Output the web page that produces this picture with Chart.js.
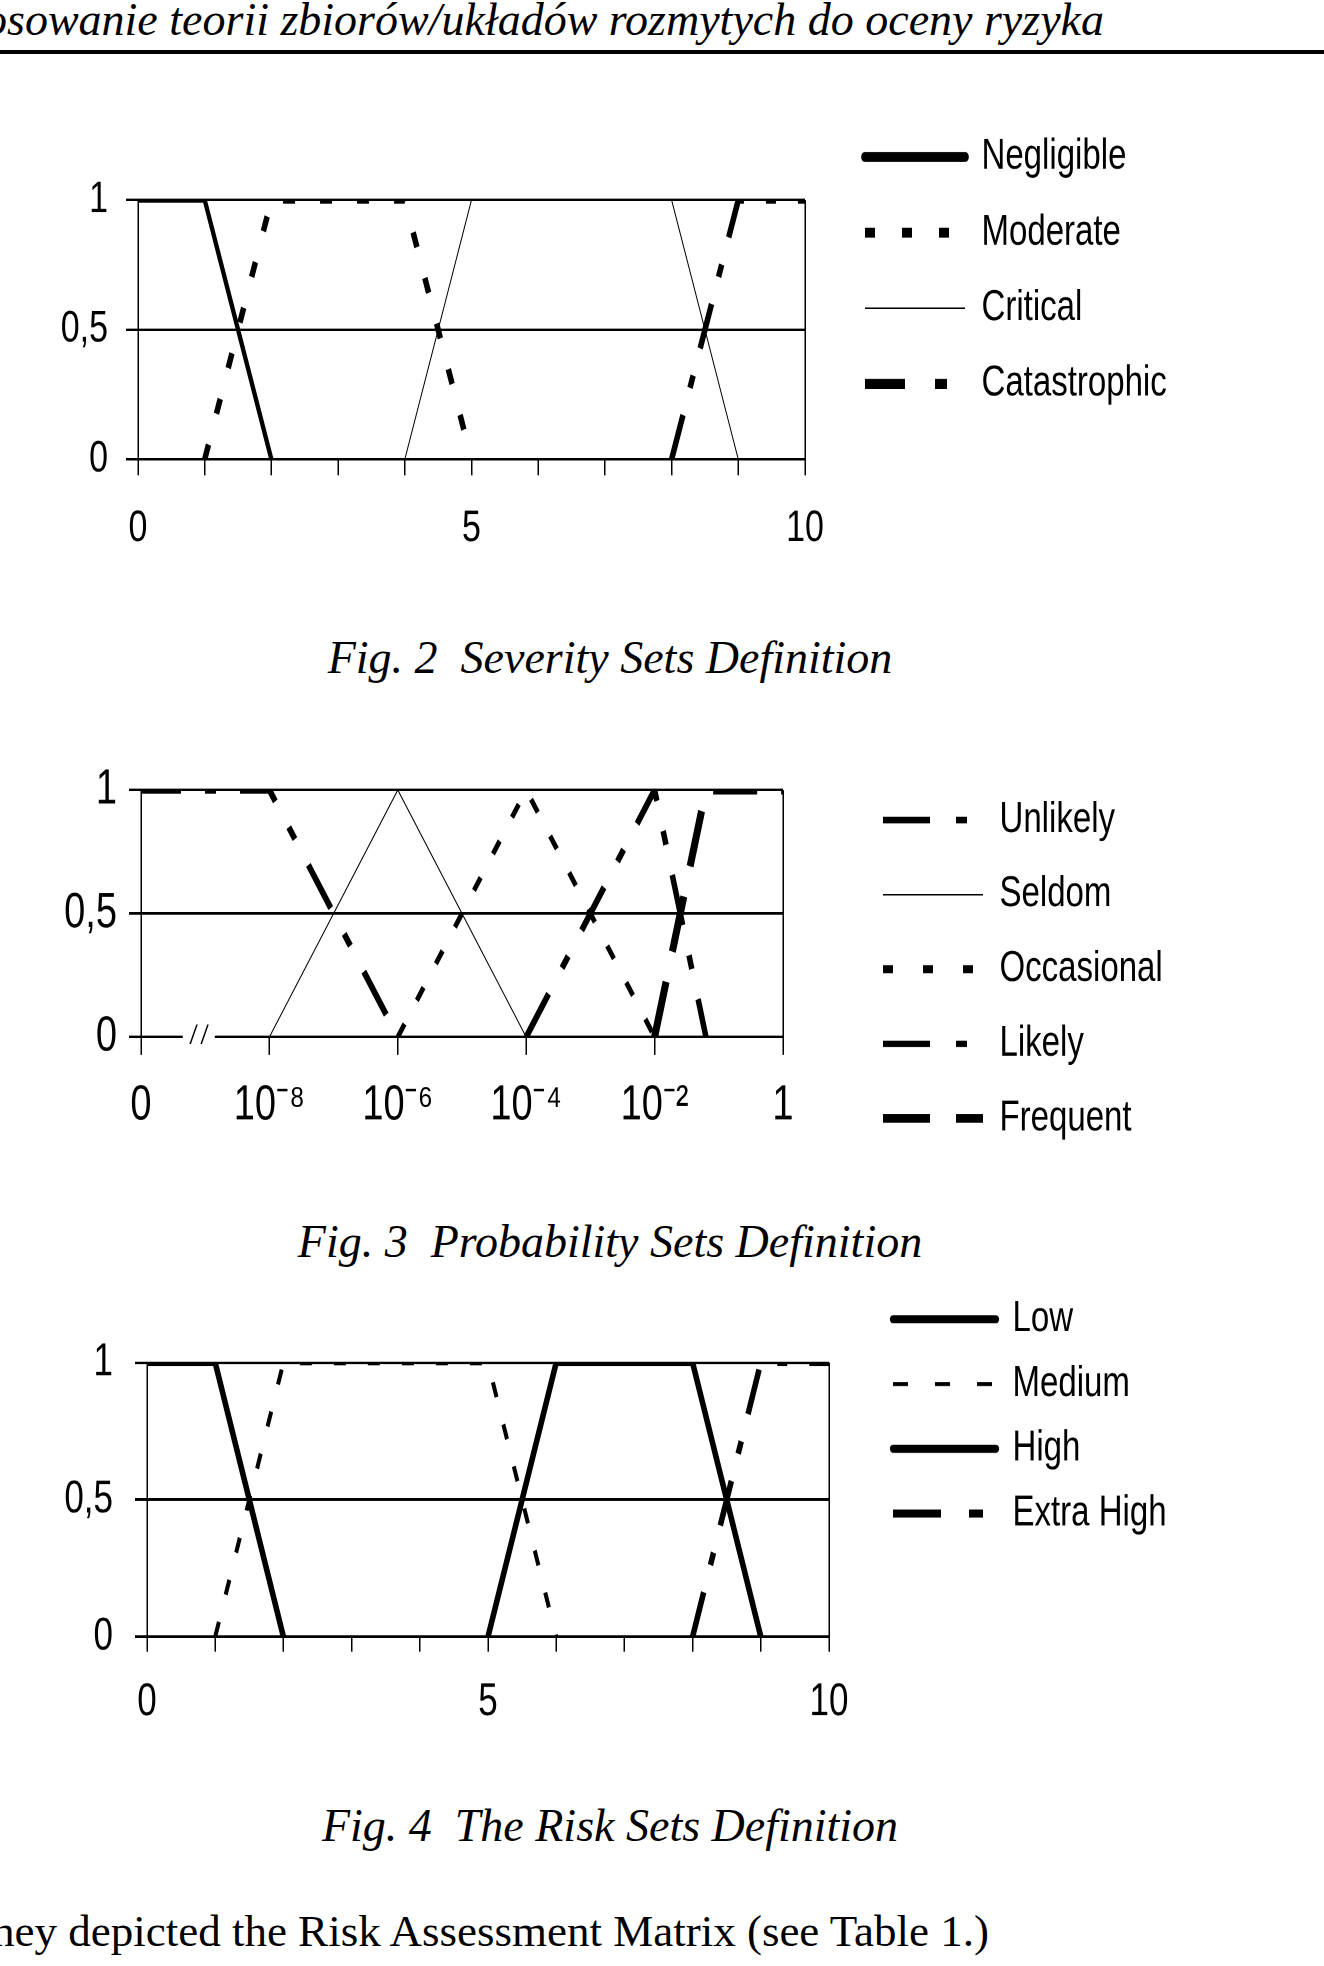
<!DOCTYPE html>
<html>
<head>
<meta charset="utf-8">
<script src="https://cdn.jsdelivr.net/npm/chart.js@4.4.1/dist/chart.umd.min.js"></script>
<style>
html,body{margin:0;padding:0;background:#fff;}
body{width:1324px;height:1966px;position:relative;overflow:hidden;}
.txt{position:absolute;font-family:'Liberation Serif','Times New Roman',serif;color:#000;white-space:pre;line-height:1;}
.cap{left:0;width:1220px;text-align:center;font-size:46px;font-style:italic;}
.chartbox{position:absolute;left:0;width:1324px;transform-origin:0 0;transform:scaleY(1.3);}
.chartbox canvas{display:block;}
</style>
</head>
<body>
<div class="txt" style="left:-16px;top:-3.5px;font-size:46px;font-style:italic;">osowanie teorii zbiorów/układów rozmytych do oceny ryzyka</div>
<div style="position:absolute;left:0;top:50px;width:1324px;height:4px;background:#000;"></div>

<div class="chartbox" style="top:90px;height:370px;"><canvas id="c1"></canvas></div>
<div class="txt cap" style="top:634.5px;">Fig. 2  Severity Sets Definition</div>

<div class="chartbox" style="top:745px;height:340px;"><canvas id="c2"></canvas></div>
<div class="txt cap" style="top:1218.5px;">Fig. 3  Probability Sets Definition</div>

<div class="chartbox" style="top:1270px;height:370px;"><canvas id="c3"></canvas></div>
<div class="txt cap" style="top:1803px;">Fig. 4  The Risk Sets Definition</div>

<div class="txt" style="left:-8px;top:1908.8px;font-size:45px;">hey depicted the Risk Assessment Matrix (see Table 1.)</div>

<script>
// ---------- shared y axis ----------
const yTickValues = [0, 0.5, 1];
const yTickLabels = ['0', '0,5', '1'];

// ---------- Fig. 2 Severity ----------
const sevTickValues = [0, 5, 10];
const sevTickLabels = ['0', '5', '10'];
const negligibleX = [0, 1, 2];       const negligibleY = [1, 1, 0];
const moderateX = [1, 2, 4, 5];      const moderateY = [0, 1, 1, 0];
const criticalX = [4, 5, 8, 9];      const criticalY = [0, 1, 1, 0];
const catastrophicX = [8, 9, 10];    const catastrophicY = [0, 1, 1];

// ---------- Fig. 3 Probability ----------
const probTickLabels = ['0', '10⁻⁸', '10⁻⁶', '10⁻⁴', '10⁻²', '1'];
const unlikelyX = [0, 1, 2];         const unlikelyY = [1, 1, 0];
const seldomX = [1, 2, 3];           const seldomY = [0, 1, 0];
const occasionalX = [2, 3, 4];       const occasionalY = [0, 1, 0];
const likelyX = [3, 4, 4.4];         const likelyY = [0, 1, 0];
const frequentX = [4, 4.4, 5];       const frequentY = [0, 1, 1];
const probBreakAt = 0.45;

// ---------- Fig. 4 Risk ----------
const riskTickValues = [0, 5, 10];
const riskTickLabels = ['0', '5', '10'];
const lowX = [0, 1, 2];              const lowY = [1, 1, 0];
const mediumX = [1, 2, 5, 6];        const mediumY = [0, 1, 1, 0];
const highX = [5, 6, 8, 9];          const highY = [0, 1, 1, 0];
const extraHighX = [8, 9, 10];       const extraHighY = [0, 1, 1];

const FONT_FAMILY = "'Liberation Sans', Arial, sans-serif";
const LEGEND_FONT = 33;
const PAGE_W = 1324;
Chart.defaults.color = '#000';
Chart.defaults.font.family = FONT_FAMILY;

function pts(xs, ys) { return xs.map((x, i) => ({ x: x, y: ys[i] })); }
function yLabel(v) { const i = yTickValues.indexOf(v); return i >= 0 ? yTickLabels[i] : ''; }

const measureCtx = document.createElement('canvas').getContext('2d');
function legendBoxWidth(labels, pad, box) {
  measureCtx.font = LEGEND_FONT + 'px ' + FONT_FAMILY;
  const tw = Math.max.apply(null, labels.map(t => measureCtx.measureText(t).width));
  return pad + box + LEGEND_FONT / 2 + tw + 4;
}

function build(id, p) {
  const legendW = legendBoxWidth(p.series.map(s => s.label), p.legendPad, p.legendBox);
  const padRight = PAGE_W - p.legendLeft - legendW;
  return new Chart(document.getElementById(id), {
    type: 'line',
    data: {
      datasets: p.series.map(s => ({
        label: s.label,
        data: pts(s.xs, s.ys),
        borderColor: '#000',
        backgroundColor: '#000',
        borderWidth: s.w,
        borderDash: s.dash || [],
        borderCapStyle: 'butt',
        borderJoinStyle: 'miter',
        pointRadius: 0,
        pointHoverRadius: 0,
        tension: 0,
        fill: false,
        legendWidth: s.lw,
        legendDash: s.ldash || [],
        legendCap: s.lcap || 'butt'
      }))
    },
    options: {
      animation: false,
      responsive: true,
      maintainAspectRatio: false,
      devicePixelRatio: 2,
      events: [],
      layout: { padding: { top: 0, left: 0, bottom: 0, right: padRight } },
      plugins: {
        tooltip: { enabled: false },
        legend: {
          position: 'right',
          align: 'start',
          maxWidth: legendW,
          title: { display: true, text: ' ', font: { size: 1, lineHeight: 1.2 }, padding: p.legendTitlePad },
          labels: {
            font: { size: LEGEND_FONT },
            color: '#000',
            padding: p.legendPad,
            usePointStyle: true,
            pointStyle: 'line',
            pointStyleWidth: p.legendBox,
            boxWidth: p.legendBox,
            boxHeight: 10,
            generateLabels: (chart) => chart.data.datasets.map((ds, i) => ({
              text: ds.label,
              fillStyle: '#000',
              strokeStyle: '#000',
              fontColor: '#000',
              lineWidth: ds.legendWidth,
              lineDash: ds.legendDash,
              lineDashOffset: 0,
              lineCap: ds.legendCap,
              lineJoin: 'miter',
              pointStyle: 'line',
              rotation: 0,
              hidden: false,
              datasetIndex: i
            }))
          }
        }
      },
      scales: {
        x: {
          type: 'linear', position: 'bottom', min: p.xMin, max: p.xMax,
          afterFit: s => { s.height = p.xH; },
          border: { display: false },
          grid: {
            color: c => (c.tick && (c.tick.value === p.xMin || c.tick.value === p.xMax)) ? '#000' : 'rgba(0,0,0,0)',
            lineWidth: 1.5, tickColor: '#000', tickWidth: 1.5, tickLength: p.xTL, drawTicks: true
          },
          ticks: { stepSize: 1, autoSkip: false, maxRotation: 0, minRotation: 0, padding: p.xPad,
                   font: { size: p.xFont }, color: '#000', callback: p.xLabel }
        },
        y: {
          type: 'linear', position: 'left', min: 0, max: 1,
          afterFit: s => { s.width = p.yW; },
          border: { display: false },
          grid: { color: '#000', lineWidth: 2, tickLength: 12, tickColor: '#000', tickWidth: 2 },
          ticks: { stepSize: 0.5, padding: p.yPad, font: { size: p.yFont, lineHeight: 1 }, color: '#000', callback: yLabel }
        },
        xTop: {
          type: 'linear', axis: 'x', position: 'top', display: true, min: 0, max: 1,
          grid: { display: false }, border: { display: false }, ticks: { display: false },
          afterFit: s => { s.height = p.topH; }
        },
        yRight: {
          type: 'linear', axis: 'y', position: 'right', display: true, min: 0, max: 1,
          grid: { display: false }, border: { display: false }, ticks: { display: false },
          afterFit: s => { s.width = p.legendLeft - p.plotRight; }
        }
      }
    },
    plugins: p.plugins || []
  });
}

const DASHDOT = [36, 22, 10, 22];

build('c1', {
  series: [
    { label: 'Negligible',   xs: negligibleX,   ys: negligibleY,   w: 4.3, lw: 7.7, lcap: 'round' },
    { label: 'Moderate',     xs: moderateX,     ys: moderateY,     w: 5.5, dash: [12, 25], lw: 7.7, ldash: [10, 27] },
    { label: 'Critical',     xs: criticalX,     ys: criticalY,     w: 1, lw: 1.3 },
    { label: 'Catastrophic', xs: catastrophicX, ys: catastrophicY, w: 5.5, dash: DASHDOT, lw: 7.7, ldash: [40, 30, 12, 60] }
  ],
  xMin: 0, xMax: 10,
  xLabel: v => { const i = sevTickValues.indexOf(v); return i >= 0 ? sevTickLabels[i] : ''; },
  legendLeft: 839.8, plotRight: 805,
  legendTitlePad: 4.3, legendPad: 25.2, legendBox: 100,
  yW: 138, topH: 84.6, xH: 85.9,
  xTL: 12.3, xPad: 20.9, xFont: 34, yPad: 18, yFont: 34
});

const breakPlugin = {
  id: 'axisBreak',
  afterDraw(chart) {
    const ctx = chart.ctx;
    const px = chart.scales.x.getPixelForValue(probBreakAt);
    const py = chart.scales.y.getPixelForValue(0);
    ctx.save();
    ctx.fillStyle = '#fff';
    ctx.fillRect(px - 16, py - 3, 32, 6);
    ctx.fillStyle = '#000';
    ctx.font = "italic 20px " + FONT_FAMILY;
    ctx.textAlign = 'center';
    ctx.textBaseline = 'middle';
    ctx.fillText('/ /', px, py);
    ctx.restore();
  }
};

build('c2', {
  series: [
    { label: 'Unlikely',   xs: unlikelyX,   ys: unlikelyY,   w: 5.5, dash: [40, 24, 11, 24], lw: 5, ldash: [47, 26, 11, 60] },
    { label: 'Seldom',     xs: seldomX,     ys: seldomY,     w: 1, lw: 1.3 },
    { label: 'Occasional', xs: occasionalX, ys: occasionalY, w: 4.5, dash: [12, 22], lw: 6.2, ldash: [10, 30] },
    { label: 'Likely',     xs: likelyX,     ys: likelyY,     w: 5.5, dash: [40, 24, 11, 24], lw: 5, ldash: [47, 26, 11, 60] },
    { label: 'Frequent',   xs: frequentX,   ys: frequentY,   w: 7, dash: [44, 24], lw: 6.5, ldash: [47, 26, 60, 10] }
  ],
  xMin: 0, xMax: 5,
  xLabel: v => (Number.isInteger(v) && probTickLabels[v] !== undefined) ? probTickLabels[v] : '',
  legendLeft: 858.6, plotRight: 783,
  legendTitlePad: 7.8, legendPad: 24.4, legendBox: 100,
  yW: 141, topH: 34.6, xH: 115.4,
  xTL: 13.8, xPad: 16.5, xFont: 38, yPad: 12, yFont: 38,
  plugins: [breakPlugin]
});

build('c3', {
  series: [
    { label: 'Low',        xs: lowX,       ys: lowY,       w: 5.5, lw: 6.2, lcap: 'round' },
    { label: 'Medium',     xs: mediumX,    ys: mediumY,    w: 4, dash: [12, 22], lw: 3.2, ldash: [15, 27] },
    { label: 'High',       xs: highX,      ys: highY,      w: 5.5, lw: 6.2, lcap: 'round' },
    { label: 'Extra High', xs: extraHighX, ys: extraHighY, w: 5.5, dash: DASHDOT, lw: 6.2, ldash: [48, 28, 14, 60] }
  ],
  xMin: 0, xMax: 10,
  xLabel: v => { const i = riskTickValues.indexOf(v); return i >= 0 ? riskTickLabels[i] : ''; },
  legendLeft: 876.2, plotRight: 829,
  legendTitlePad: 1.7, legendPad: 16.8, legendBox: 103,
  yW: 147, topH: 71.3, xH: 87.9,
  xTL: 11.5, xPad: 18.4, xFont: 35, yPad: 22, yFont: 35
});
</script>
</body>
</html>
